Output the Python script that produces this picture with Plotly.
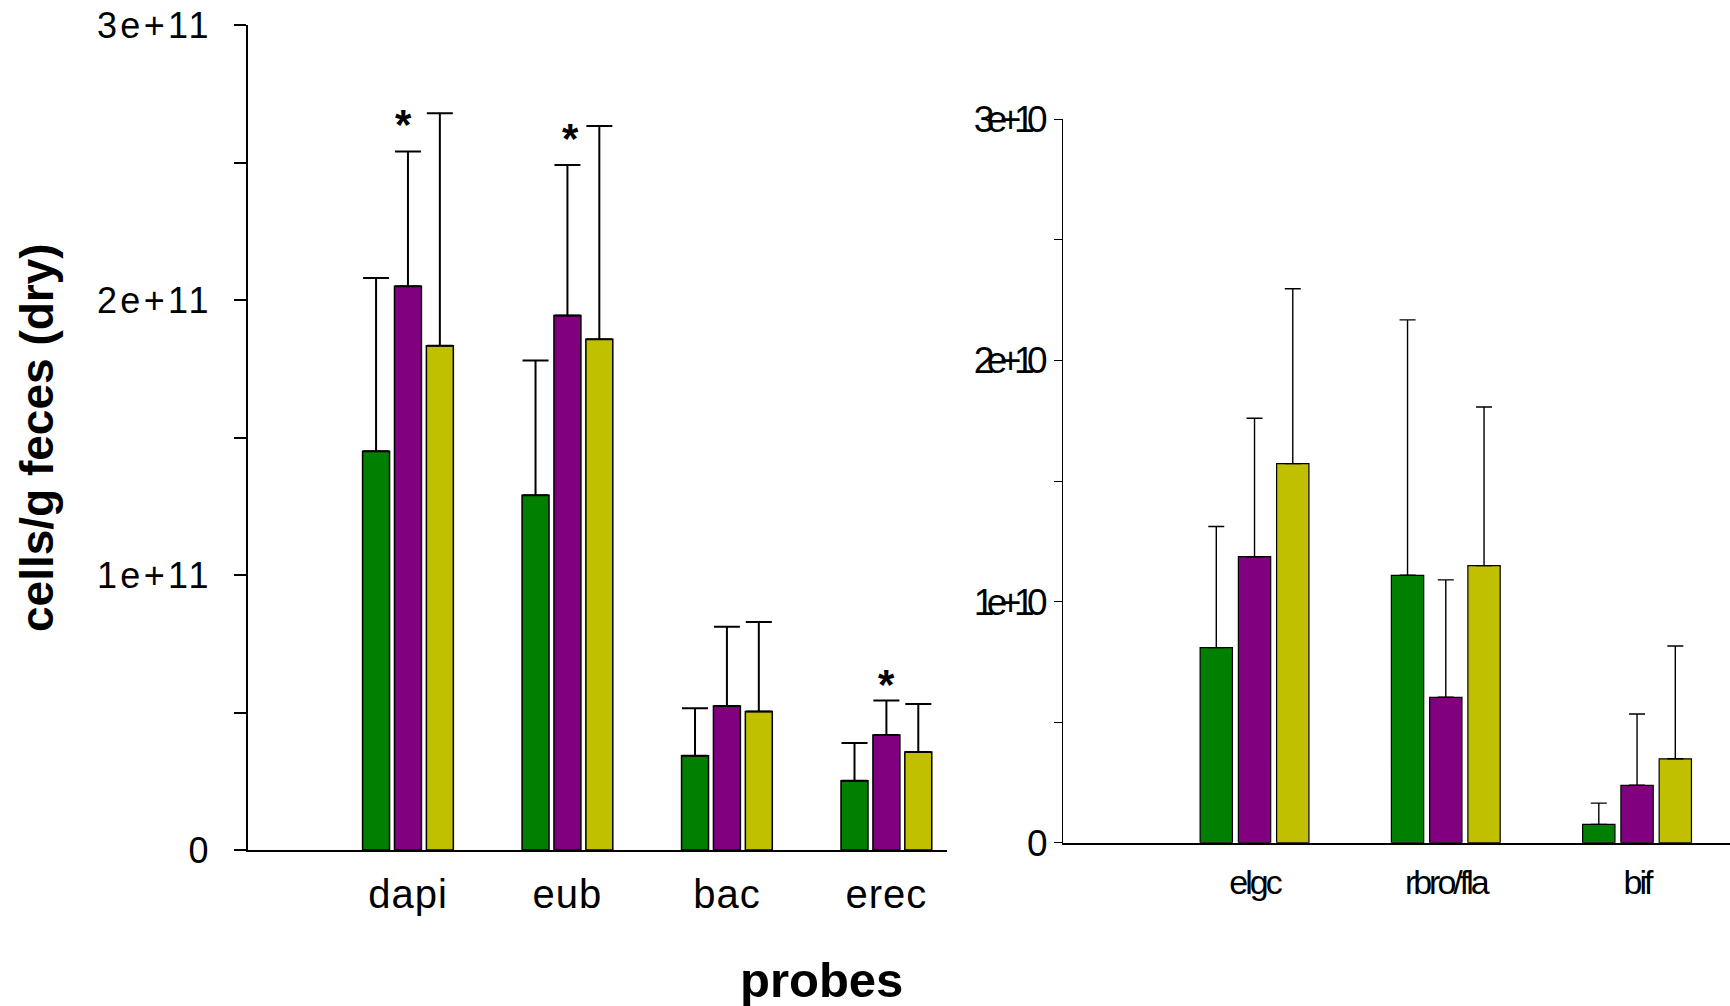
import plotly.graph_objects as go

# ---------------- data ----------------
left_categories = ["dapi", "eub", "bac", "erec"]
right_categories = ["elgc", "rbro/fla", "bif"]

left_green = [1.45e11, 1.29e11, 0.343e11, 0.252e11]
left_green_err = [0.63e11, 0.49e11, 0.172e11, 0.137e11]
left_purple = [2.05e11, 1.944e11, 0.524e11, 0.418e11]
left_purple_err = [0.49e11, 0.547e11, 0.288e11, 0.126e11]
left_yellow = [1.834e11, 1.857e11, 0.504e11, 0.356e11]
left_yellow_err = [0.845e11, 0.776e11, 0.325e11, 0.175e11]

right_green = [0.809e10, 1.109e10, 0.076e10]
right_green_err = [0.502e10, 1.059e10, 0.088e10]
right_purple = [1.186e10, 0.603e10, 0.238e10]
right_purple_err = [0.574e10, 0.487e10, 0.296e10]
right_yellow = [1.572e10, 1.149e10, 0.348e10]
right_yellow_err = [0.725e10, 0.658e10, 0.468e10]

left_tickvals = [0, 0.5e11, 1e11, 1.5e11, 2e11, 2.5e11, 3e11]
left_ticktext = ["0", "", "1e+11", "", "2e+11", "", "3e+11"]
right_tickvals = [0, 0.5e10, 1e10, 1.5e10, 2e10, 2.5e10, 3e10]
right_ticktext = ["0", "", "1e+10", "", "2e+10", "", "3e+10"]

# significance stars (above the purple bar of these categories)
star_categories = ["dapi", "eub", "erec"]

y_title = "cells/g feces (dry)"
x_title = "probes"

# ---------------- style ----------------
W, H = 1730, 1006
GREEN, PURPLE, YELLOW = "#007F00", "#800080", "#C0C000"
FONT = "Liberation Sans, Arial, sans-serif"
star_yshift_px = [27, 26, 16]
star_xshift_px = [-4, 3, 0]

def px_x(p):
    return p / W

def px_y(p):
    return (H - p) / H

fig = go.Figure()

left_sets = [(left_green, left_green_err, GREEN),
             (left_purple, left_purple_err, PURPLE),
             (left_yellow, left_yellow_err, YELLOW)]
for vals, errs, col in left_sets:
    fig.add_trace(go.Bar(
        x=left_categories, y=vals, xaxis="x", yaxis="y",
        marker=dict(color=col, line=dict(color="black", width=1.5)),
        error_y=dict(type="data", symmetric=False, array=errs,
                     arrayminus=[0] * len(errs), color="black",
                     thickness=2, width=13),
        showlegend=False, hoverinfo="skip"))

right_sets = [(right_green, right_green_err, GREEN),
              (right_purple, right_purple_err, PURPLE),
              (right_yellow, right_yellow_err, YELLOW)]
for vals, errs, col in right_sets:
    fig.add_trace(go.Bar(
        x=right_categories, y=vals, xaxis="x2", yaxis="y2",
        marker=dict(color=col, line=dict(color="black", width=1.2)),
        error_y=dict(type="data", symmetric=False, array=errs,
                     arrayminus=[0] * len(errs), color="black",
                     thickness=1.4, width=8),
        showlegend=False, hoverinfo="skip"))

def spaced(texts, sp):
    return [f'<span style="letter-spacing:{sp}px">{t}</span>' if t else "" for t in texts]

fig.update_layout(
    width=W, height=H,
    margin=dict(l=0, r=0, t=0, b=0, autoexpand=False),
    paper_bgcolor="white", plot_bgcolor="white",
    barmode="group", bargap=0.40, bargroupgap=0.155,
    font=dict(family=FONT, color="black"),
    xaxis=dict(
        domain=[px_x(248), px_x(947)], anchor="y", automargin=False,
        type="category", categoryarray=left_categories,
        range=[-1.003, 3.38],
        showline=True, linecolor="black", linewidth=2.3,
        ticks="", showgrid=False, zeroline=False,
        tickfont=dict(size=40, family=FONT),
        ticklabelstandoff=8,
        tickvals=left_categories, ticktext=spaced(left_categories, 1),
    ),
    yaxis=dict(
        domain=[px_y(850), px_y(25)], anchor="x", automargin=False,
        range=[0, 3e11],
        tickvals=left_tickvals, ticktext=spaced(left_ticktext, 3.3),
        ticks="outside", ticklen=12, tickwidth=1.7, tickcolor="black",
        showline=True, linecolor="black", linewidth=1.7,
        showgrid=False, zeroline=False,
        tickfont=dict(size=36, family=FONT),
        ticklabelstandoff=15,
    ),
    xaxis2=dict(
        domain=[px_x(1062.7), 1.0], anchor="y2", automargin=False,
        type="category", categoryarray=right_categories,
        range=[-1.003, 2.486],
        showline=True, linecolor="black", linewidth=2,
        ticks="", showgrid=False, zeroline=False,
        tickfont=dict(size=34, family=FONT),
        ticklabelstandoff=8,
        tickvals=right_categories, ticktext=spaced(right_categories, -3),
    ),
    yaxis2=dict(
        domain=[px_y(842.7), px_y(119.3)], anchor="x2", automargin=False,
        range=[0, 3e10],
        tickvals=right_tickvals, ticktext=spaced(right_ticktext, -7.5),
        ticks="outside", ticklen=8, tickwidth=1.3, tickcolor="black",
        showline=True, linecolor="black", linewidth=1.3,
        showgrid=False, zeroline=False,
        tickfont=dict(size=37, family=FONT),
        ticklabelstandoff=6,
    ),
)

# significance stars above purple error bars
for k, cat in enumerate(star_categories):
    i = left_categories.index(cat)
    fig.add_annotation(
        x=cat, y=left_purple[i] + left_purple_err[i], xref="x", yref="y",
        text="<b>*</b>", showarrow=False, yanchor="middle",
        yshift=star_yshift_px[k], xshift=star_xshift_px[k],
        font=dict(size=42, family=FONT, color="black"))

# axis titles
fig.add_annotation(
    x=px_x(37), y=px_y(438), xref="paper", yref="paper",
    text=f"<b>{y_title}</b>", textangle=-90, showarrow=False,
    xanchor="center", yanchor="middle",
    font=dict(size=46, family=FONT, color="black"))
fig.add_annotation(
    x=px_x(821), y=px_y(980), xref="paper", yref="paper",
    text=f"<b>{x_title}</b>", showarrow=False,
    xanchor="center", yanchor="middle",
    font=dict(size=49, family=FONT, color="black"))

fig.write_html("out.html", config={"displayModeBar": False},
               post_script="document.body.style.margin='0';document.body.style.overflow='hidden';")
